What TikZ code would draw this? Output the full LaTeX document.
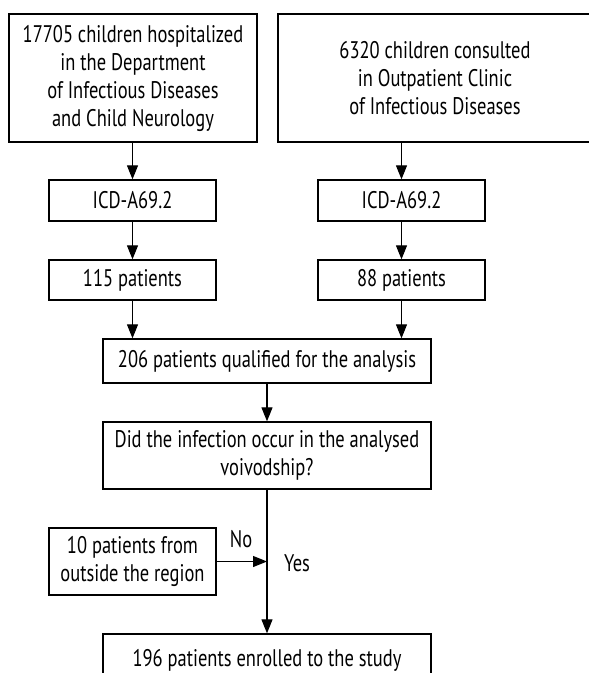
\documentclass[tikz,border=0pt]{standalone}
\usepackage{fontspec}
\setmainfont[FakeStretch=0.77]{PT Sans}
\usetikzlibrary{arrows.meta}

\begin{document}
\begin{tikzpicture}[x=1pt,y=-1pt,line width=1.3pt,
    box/.style={draw,align=center,inner sep=0pt,font=\fontsize{24}{28}\selectfont},
    arr/.style={-{Triangle[length=14pt,width=11pt]},line width=1.1pt},
    lbl/.style={font=\fontsize{24}{28}\selectfont}]
	\useasboundingbox (0,0) rectangle (589,673);
	\node[box,minimum width=248,minimum height=128] (hosp) at (133,78) {17705 children hospitalized\\in the Department\\of Infectious Diseases\\and Child Neurology};
	\node[box,minimum width=314,minimum height=128] (cons) at (435,78) {6320 children consulted\\in Outpatient Clinic\\of Infectious Diseases};
	\node[box,minimum width=167,minimum height=41] (icdL) at (132.5,200.5) {ICD-A69.2};
	\node[box,minimum width=167,minimum height=41] (icdR) at (401.5,200.5) {ICD-A69.2};
	\node[box,minimum width=167,minimum height=40] (patL) at (132.5,280) {115 patients};
	\node[box,minimum width=167,minimum height=40] (patR) at (401.5,280) {88 patients};
	\node[box,minimum width=328,minimum height=44] (qual) at (267,361) {206 patients qualified for the analysis};
	\node[box,minimum width=328,minimum height=67] (quest) at (267,455.5) {Did the infection occur in the analysed\\voivodship?};
	\node[box,minimum width=167,minimum height=67] (outs) at (132.5,561.5) {10 patients from\\outside the region};
	\node[box,minimum width=328,minimum height=52] (enrol) at (267,660) {196 patients enrolled to the study};
	\draw[arr] (hosp.south -| icdL.north)--(icdL.north);
	\draw[arr] (cons.south -| icdR.north)--(icdR.north);
	\draw[arr] (icdL)--(patL);
	\draw[arr] (icdR)--(patR);
	\draw[arr] (patL.south)--(patL.south |- qual.north);
	\draw[arr] (patR.south)--(patR.south |- qual.north);
	\draw[arr] (qual)--(quest);
	\draw[arr] (quest)--(enrol);
	\draw[arr] (outs.east)--(outs.east -| quest.south);
	\node[lbl] (no) at (241,539) {No};
	\node[lbl] (yes) at (297,563) {Yes};
\end{tikzpicture}
\end{document}
